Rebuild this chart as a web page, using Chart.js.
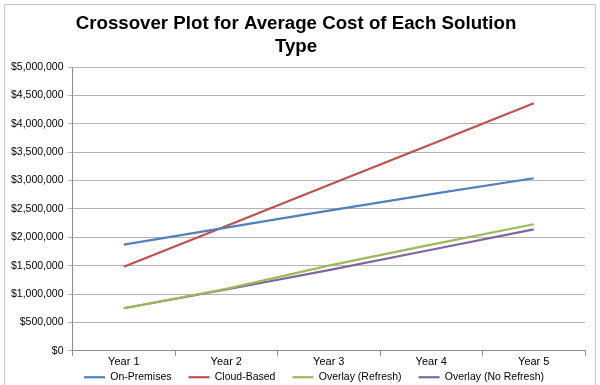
<!DOCTYPE html>
<html lang="en">
<head>
<meta charset="UTF-8">
<title>Crossover Plot</title>
<style>
  html, body { margin: 0; padding: 0; background: #ffffff; overflow: hidden; }
  .frame {
    position: absolute; left: 4px; top: 4px; width: 590px; height: 400px;
    border: 1px solid #c4c4c4;
  }
  .wrap { position: absolute; left: 0; top: 0; width: 600px; height: 385px; }
</style>
</head>
<body>
<div class="frame"></div>
<div class="wrap"><canvas id="chart" width="600" height="385"></canvas></div>
<script src="https://cdn.jsdelivr.net/npm/chart.js@4.4.0/dist/chart.umd.min.js"></script>
<script>
// data
const years = ['Year 1', 'Year 2', 'Year 3', 'Year 4', 'Year 5'];
const onPremises = [1870000, 2170000, 2470000, 2760000, 3040000];
const cloudBased = [1480000, 2200000, 2920000, 3640000, 4360000];
const overlayRefresh = [750000, 1090000, 1500000, 1870000, 2230000];
const overlayNoRefresh = [750000, 1080000, 1420000, 1780000, 2140000];

const font = "'Liberation Sans', Arial, sans-serif";
const legendPad = 17;   // gap between legend items
const legendBox = 16;   // height the legend takes in the layout

// the legend's padding is used both across and down; keep the wide gap
// between items but don't let it eat vertical space
const compactLegend = {
  id: 'compactLegend',
  afterInit(chart) {
    const lg = chart.legend;
    const fit = lg.fit;
    lg.fit = function () {
      fit.call(this);
      this.height = legendBox;
    };
  },
  afterLayout(chart) {
    const lg = chart.legend;
    lg.top -= legendPad - 3;
    lg.bottom = chart.height;
    lg.height = lg.bottom - lg.top;
    lg.left += 36;   // legend sits a little right of centre
    lg.width = lg.right - lg.left;
  }
};

const ds = (label, data, color) => ({
  label: label,
  data: data,
  borderColor: color,
  backgroundColor: color,
  borderWidth: 2.2,
  pointRadius: 0,
  pointHoverRadius: 0,
  pointStyle: 'line',
  tension: 0
});

new Chart(document.getElementById('chart'), {
  type: 'line',
  data: {
    labels: years,
    datasets: [
      ds('On-Premises', onPremises, '#4f81bd'),
      ds('Cloud-Based', cloudBased, '#c0504d'),
      ds('Overlay (Refresh)', overlayRefresh, '#9bbb59'),
      ds('Overlay (No Refresh)', overlayNoRefresh, '#8064a2')
    ]
  },
  plugins: [compactLegend],
  options: {
    responsive: false,
    animation: false,
    layout: { padding: { left: 7, right: 15, top: 8, bottom: 0 } },
    plugins: {
      title: {
        display: true,
        text: ['Crossover Plot for Average Cost of Each Solution', 'Type'],
        color: '#000000',
        font: { family: font, size: 18.7, weight: 'bold', lineHeight: 1.23 },
        padding: { top: 4, bottom: 9 }
      },
      legend: {
        position: 'bottom',
        labels: {
          usePointStyle: true,
          pointStyle: 'line',
          pointStyleWidth: 21,
          boxHeight: 2,
          color: '#000000',
          font: { family: font, size: 10.5 },
          padding: legendPad
        }
      },
      tooltip: { enabled: false }
    },
    scales: {
      x: {
        offset: true,
        grid: {
          offset: true,
          drawOnChartArea: false,
          drawTicks: true,
          tickLength: 5,
          color: '#8c8c8c'
        },
        border: { color: '#8c8c8c' },
        ticks: { color: '#000000', font: { family: font, size: 11 }, padding: 0 }
      },
      y: {
        min: 0,
        max: 5000000,
        ticks: {
          stepSize: 500000,
          color: '#000000',
          font: { family: font, size: 10.5 },
          padding: 4,
          callback: v => '$' + v.toLocaleString('en-US')
        },
        grid: { color: '#b4b4b4', tickLength: 5 },
        border: { color: '#8c8c8c' }
      }
    }
  }
});
</script>
</body>
</html>
